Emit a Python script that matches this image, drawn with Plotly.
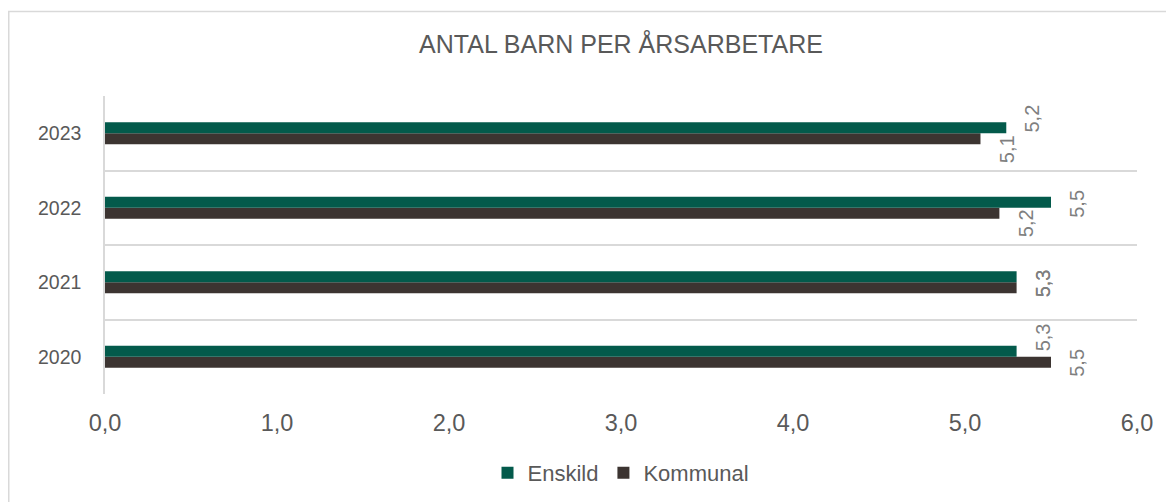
import plotly.graph_objects as go

# ---- data ----
years = ["2020", "2021", "2022", "2023"]
enskild = [5.30, 5.30, 5.50, 5.24]
kommunal = [5.50, 5.30, 5.20, 5.09]
series_names = ["Enskild", "Kommunal"]
x_ticks = [0, 1, 2, 3, 4, 5, 6]
title_text = "ANTAL BARN PER ÅRSARBETARE"

# ---- style ----
col_e = "#035a4b"
col_k = "#3c3431"
grid_col = "#d9d9d9"
txt_col = "#595959"
lbl_col = "#7f7f7f"
font_fam = "Liberation Sans, Arial"
# label pixel offsets (manual placement in the original)
yshift_e = [19, -1.5, 4, 15]
yshift_k = [-6, -1.5, -15, -15.5]

# page has an 8px body margin, figure coordinates are page - 8
W, H = 1166, 494
ml, mr, mt, mb = 97, 37, 88, 108
pw, ph = W - ml - mr, H - mt - mb

ypos = list(range(len(years)))
bounds = [p - 0.5 for p in ypos] + [ypos[-1] + 0.5]

fig = go.Figure()
fig.add_trace(go.Bar(y=ypos, x=kommunal, name=series_names[1], orientation="h",
                     marker=dict(color=col_k, line=dict(width=0))))
fig.add_trace(go.Bar(y=ypos, x=enskild, name=series_names[0], orientation="h",
                     marker=dict(color=col_e, line=dict(width=0))))

def fmt(v):
    return f"{v:.1f}".replace(".", ",")

ann = []
for i in ypos:
    for vals, ys in ((enskild, yshift_e), (kommunal, yshift_k)):
        ann.append(dict(x=vals[i], y=i, xref="x", yref="y", text=fmt(vals[i]),
                        showarrow=False, textangle=-90, xanchor="center", yanchor="middle",
                        xshift=26, yshift=ys[i],
                        font=dict(family=font_fam, size=20, color=lbl_col)))

fig.update_layout(
    width=W, height=H,
    margin=dict(l=ml, r=mr, t=mt, b=mb, autoexpand=False),
    paper_bgcolor="white", plot_bgcolor="white",
    barmode="group", bargap=0.705, bargroupgap=0,
    separators=", ",
    title=dict(text=title_text, x=0.5, xanchor="center", xref="paper",
               y=(H - 36) / H, yanchor="middle",
               font=dict(family=font_fam, size=25, color=txt_col)),
    xaxis=dict(range=[0, 6], tickvals=x_ticks, tickformat=".1f", showgrid=False,
               zeroline=False, showline=False, ticks="",
               tickfont=dict(family=font_fam, size=23.5, color=txt_col),
               ticklabelstandoff=12),
    yaxis=dict(range=[bounds[0], bounds[-1]], tickvals=ypos, ticktext=years,
               showgrid=False, zeroline=False,
               minor=dict(tickvals=bounds, showgrid=True, gridcolor=grid_col, gridwidth=1.5, ticks=""),
               showline=True, linecolor=grid_col, linewidth=1.5, ticks="",
               tickfont=dict(family=font_fam, size=19.5, color=txt_col),
               ticklabelstandoff=18),
    legend=dict(orientation="h", x=0.5, xanchor="center", y=-(79) / ph,
                yanchor="middle", traceorder="reversed",
                font=dict(family=font_fam, size=22, color=txt_col)),
    annotations=ann,
    shapes=[dict(type="rect", xref="paper", yref="paper",
                 x0=(0.75 - ml) / pw, x1=(W + 10 - ml) / pw,
                 y0=(mt + ph - 3.5) / ph, y1=-(H + 10 - mt - ph) / ph,
                 line=dict(color=grid_col, width=1.5), layer="below")],
)

fig.write_html("out.html")
